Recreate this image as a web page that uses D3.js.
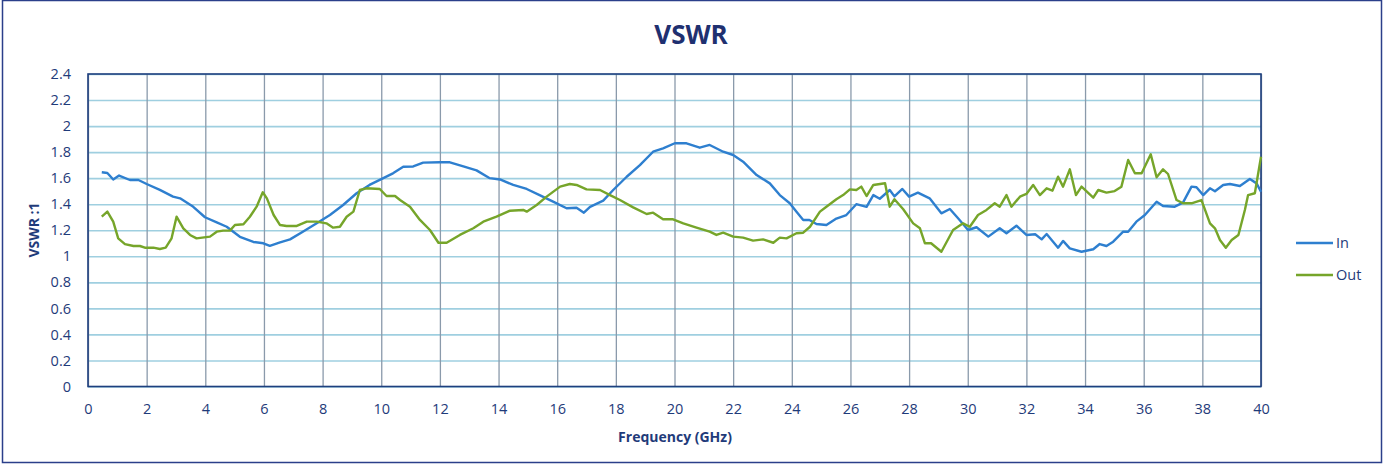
<!DOCTYPE html>
<html><head><meta charset="utf-8">
<script src="https://cdn.jsdelivr.net/npm/d3@7"></script>
<style>body{margin:0;background:#fff;}svg{display:block;font-family:"Open Sans","Noto Sans",sans-serif;}</style>
</head><body>
<svg id="c" width="1387" height="465"></svg>
<script>
const xTicks = [0,2,4,6,8,10,12,14,16,18,20,22,24,26,28,30,32,34,36,38,40];
const yTicks = [0,0.2,0.4,0.6,0.8,1,1.2,1.4,1.6,1.8,2,2.2,2.4];
const seriesNames = ["In","Out"];
const seriesColors = ["#2e7fcf","#76a52a"];

const freqIn = [0.47,0.66,0.86,1.06,1.43,1.72,2.0,2.45,2.9,3.14,3.59,3.99,4.39,4.73,5.18,5.64,5.98,6.2,6.55,6.89,7.34,7.8,8.25,8.7,9.16,9.6,10.07,10.4,10.75,11.09,11.43,12.0,12.34,12.8,13.25,13.7,14.05,14.5,14.96,15.4,15.86,16.32,16.66,16.91,17.12,17.57,17.91,18.37,18.82,19.27,19.61,20.01,20.41,20.86,21.2,21.66,22.0,22.34,22.8,23.25,23.59,23.93,24.16,24.39,24.6,24.84,25.18,25.52,25.86,26.2,26.55,26.78,27.0,27.34,27.5,27.77,28.0,28.3,28.7,29.1,29.39,29.67,30.01,30.3,30.7,31.09,31.32,31.66,32.0,32.3,32.52,32.69,33.08,33.25,33.48,33.88,34.28,34.5,34.73,34.96,35.3,35.47,35.75,36.04,36.44,36.66,37.06,37.34,37.63,37.8,38.03,38.26,38.43,38.71,38.94,39.28,39.62,39.85,40.0];
const vswrIn = [1.645,1.64,1.59,1.62,1.586,1.586,1.555,1.51,1.458,1.445,1.38,1.30,1.26,1.227,1.15,1.11,1.10,1.08,1.107,1.13,1.19,1.253,1.317,1.394,1.484,1.548,1.60,1.637,1.688,1.69,1.719,1.722,1.722,1.69,1.66,1.60,1.59,1.548,1.517,1.47,1.42,1.369,1.373,1.335,1.38,1.427,1.509,1.611,1.70,1.803,1.829,1.868,1.868,1.834,1.855,1.803,1.778,1.727,1.624,1.56,1.47,1.407,1.343,1.279,1.279,1.248,1.24,1.29,1.317,1.40,1.38,1.47,1.442,1.509,1.46,1.517,1.458,1.489,1.445,1.33,1.363,1.292,1.202,1.223,1.151,1.215,1.177,1.235,1.164,1.169,1.13,1.171,1.066,1.118,1.061,1.035,1.054,1.094,1.079,1.112,1.189,1.189,1.266,1.317,1.419,1.386,1.381,1.412,1.535,1.53,1.47,1.522,1.50,1.548,1.555,1.54,1.594,1.56,1.496];

const freqOut = [0.47,0.66,0.86,1.03,1.26,1.55,1.77,1.94,2.23,2.45,2.65,2.85,3.02,3.25,3.48,3.7,4.16,4.39,4.61,4.84,5.01,5.3,5.52,5.75,5.96,6.1,6.33,6.55,6.77,7.12,7.46,7.8,8.13,8.36,8.59,8.82,9.05,9.27,9.5,9.95,10.18,10.47,10.64,10.98,11.32,11.66,11.95,12.23,12.68,13.14,13.48,13.93,14.39,14.84,14.96,15.3,15.64,16.1,16.43,16.66,17.0,17.46,17.8,18.14,18.59,19.05,19.27,19.61,19.95,20.3,20.75,21.2,21.43,21.66,22.0,22.34,22.68,23.02,23.37,23.59,23.82,24.16,24.39,24.62,24.96,25.18,25.52,25.75,25.98,26.2,26.37,26.55,26.78,27.18,27.34,27.5,27.8,28.14,28.37,28.54,28.75,29.1,29.5,29.84,30.07,30.35,30.64,30.92,31.09,31.32,31.49,31.78,32.0,32.23,32.46,32.69,32.89,33.08,33.25,33.48,33.69,33.88,34.28,34.45,34.73,35.01,35.24,35.47,35.7,35.93,36.24,36.44,36.66,36.83,37.12,37.34,37.63,37.97,38.26,38.43,38.6,38.8,39.0,39.23,39.45,39.56,39.79,40.0];
const vswrOut = [1.304,1.343,1.266,1.138,1.094,1.079,1.079,1.066,1.066,1.056,1.066,1.138,1.304,1.215,1.164,1.138,1.151,1.189,1.197,1.197,1.24,1.246,1.304,1.381,1.492,1.445,1.317,1.24,1.233,1.233,1.266,1.266,1.253,1.22,1.227,1.304,1.343,1.509,1.522,1.517,1.463,1.463,1.432,1.381,1.279,1.202,1.104,1.104,1.164,1.215,1.266,1.304,1.35,1.356,1.343,1.394,1.458,1.535,1.555,1.548,1.514,1.509,1.47,1.432,1.376,1.325,1.335,1.284,1.284,1.253,1.22,1.189,1.164,1.181,1.151,1.143,1.12,1.13,1.104,1.143,1.138,1.177,1.181,1.227,1.343,1.381,1.438,1.47,1.514,1.509,1.535,1.463,1.548,1.561,1.381,1.438,1.361,1.253,1.215,1.10,1.10,1.035,1.202,1.253,1.227,1.317,1.356,1.407,1.381,1.47,1.381,1.458,1.479,1.548,1.47,1.522,1.504,1.611,1.535,1.668,1.47,1.535,1.45,1.509,1.489,1.501,1.535,1.74,1.638,1.638,1.783,1.607,1.668,1.632,1.432,1.407,1.407,1.432,1.253,1.215,1.125,1.066,1.125,1.164,1.356,1.47,1.484,1.765];

const svg = d3.select("#c");
const L = 88, R = 1261, T = 74, B = 386.5;
const navy = "#1f3b7a";

// outer frame
svg.append("rect").attr("x",2.5).attr("y",0.5).attr("width",1379).attr("height",462)
  .attr("fill","#fff").attr("stroke","#2b3f8a").attr("stroke-width",1.5);

const x = d3.scaleLinear().domain([0,40]).range([L,R]);
const y = d3.scaleLinear().domain([0,2.4]).range([B,T]);

// horizontal grid
svg.append("g").attr("transform",`translate(${L},0)`)
  .call(d3.axisLeft(y).tickValues(yTicks).tickSize(-(R-L)).tickFormat(""))
  .call(g=>g.select(".domain").remove())
  .call(g=>g.selectAll("line").attr("stroke","#9fcfe0").attr("stroke-width",1.6));
// vertical grid
svg.append("g").attr("transform",`translate(0,${B})`)
  .call(d3.axisBottom(x).tickValues(xTicks).tickSize(-(B-T)).tickFormat(""))
  .call(g=>g.select(".domain").remove())
  .call(g=>g.selectAll("line").attr("stroke","#8a9aab").attr("stroke-width",1.3));

// plot border
svg.append("rect").attr("x",L).attr("y",T).attr("width",R-L).attr("height",B-T)
  .attr("fill","none").attr("stroke","#1e3f7e").attr("stroke-width",1.6);

// tick labels
svg.append("g").attr("transform",`translate(${L-14},0)`)
  .call(d3.axisLeft(y).tickValues(yTicks).tickSize(0).tickFormat(d=>String(d)))
  .call(g=>g.select(".domain").remove())
  .call(g=>g.selectAll("text").attr("fill",navy).attr("font-size",14.5).attr("font-family","'Open Sans',sans-serif"));
svg.append("g").attr("transform",`translate(0,${B+14})`)
  .call(d3.axisBottom(x).tickValues(xTicks).tickSize(0).tickFormat(d=>String(d)))
  .call(g=>g.select(".domain").remove())
  .call(g=>g.selectAll("text").attr("fill",navy).attr("font-size",14.5).attr("font-family","'Open Sans',sans-serif"));

// lines
const line = d3.line().x(d=>x(d[0])).y(d=>y(d[1]));
const dataIn = freqIn.map((f,i)=>[f,vswrIn[i]]);
const dataOut = freqOut.map((f,i)=>[f,vswrOut[i]]);
svg.append("path").datum(dataIn).attr("d",line).attr("fill","none")
  .attr("stroke",seriesColors[0]).attr("stroke-width",2.4).attr("stroke-linejoin","round");
svg.append("path").datum(dataOut).attr("d",line).attr("fill","none")
  .attr("stroke",seriesColors[1]).attr("stroke-width",2.4).attr("stroke-linejoin","round");

// title & axis titles
svg.append("text").attr("x",691).attr("y",44).attr("text-anchor","middle")
  .attr("font-size",26).attr("font-weight","bold").attr("fill","#1f3070").text("VSWR");
svg.append("text").attr("x",675).attr("y",442).attr("text-anchor","middle")
  .attr("font-size",14).attr("font-weight","bold").attr("fill",navy).text("Frequency (GHz)");
svg.append("text").attr("transform","translate(39,230) rotate(-90)").attr("text-anchor","middle")
  .attr("font-size",14).attr("font-weight","bold").attr("fill",navy).text("VSWR :1");

// legend
const lg = svg.append("g");
seriesNames.forEach((n,i)=>{
  const yy = 243 + i*32;
  lg.append("line").attr("x1",1296).attr("x2",1333).attr("y1",yy).attr("y2",yy)
    .attr("stroke",seriesColors[i]).attr("stroke-width",2.4);
  lg.append("text").attr("x",1336).attr("y",yy+5).attr("font-size",14.5).attr("fill",navy).text(n);
});
</script>
</body></html>
